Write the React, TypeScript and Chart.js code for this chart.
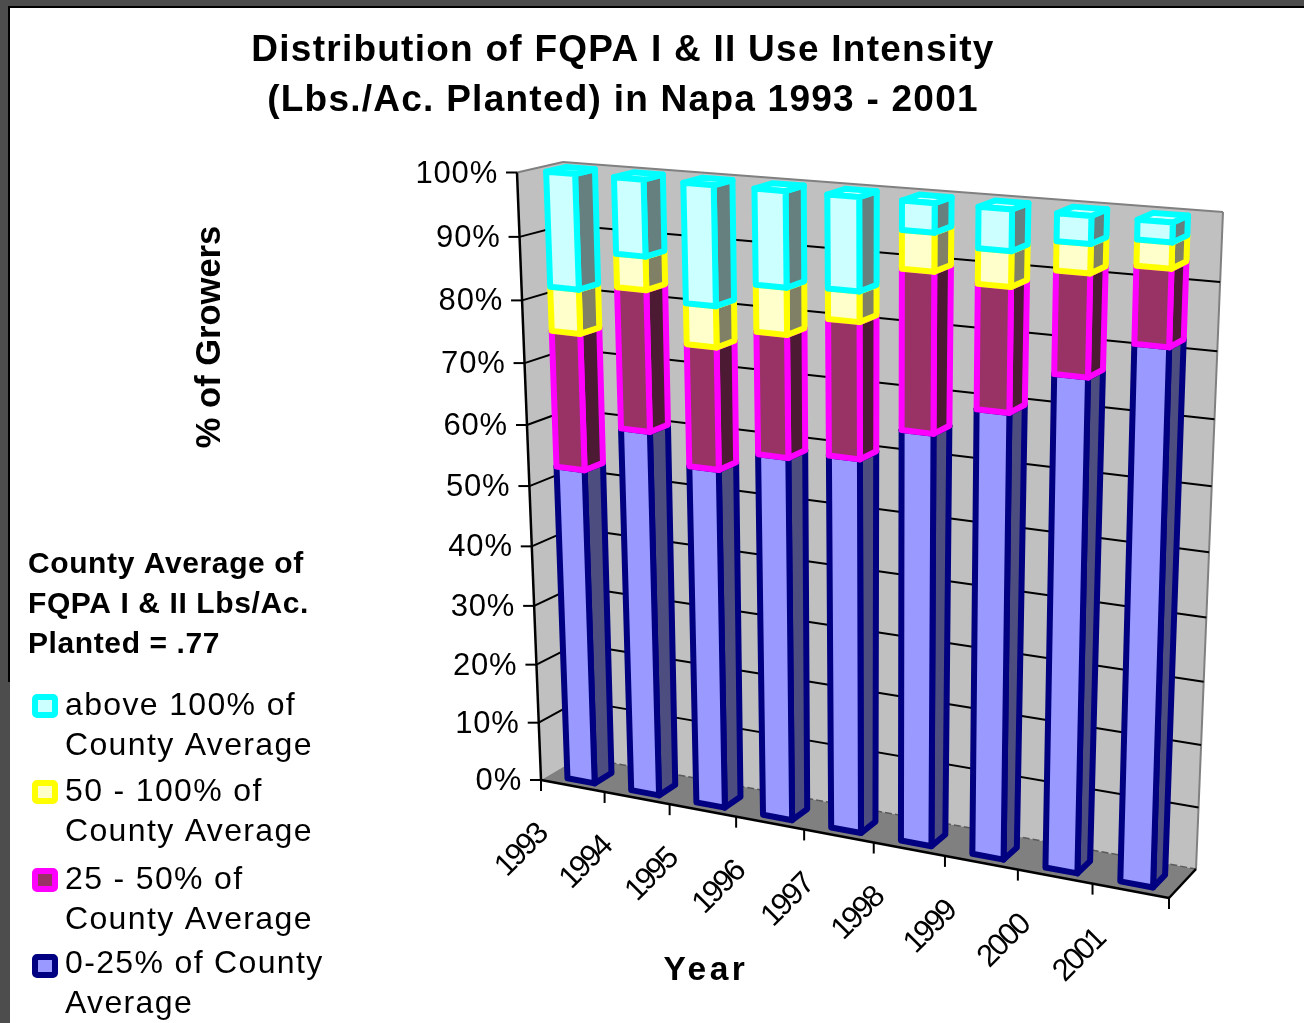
import React, { useEffect, useRef } from "react";
import { Chart, registerables } from "chart.js";

Chart.register(...registerables);

const categories = ["1993", "1994", "1995", "1996", "1997", "1998", "1999", "2000", "2001"];
const lowUse = [53, 60.6, 55.9, 59.2, 60.4, 65.7, 70.2, 76.7, 82.3];
const lowMidUse = [22, 22.4, 19.3, 19.1, 21, 24.3, 18.6, 15.1, 11.2];
const highMidUse = [7, 5.2, 6.4, 7.2, 4.6, 5.7, 5.2, 4.2, 3.7];
const highUse = [18, 11.8, 18.4, 14.5, 14, 4.3, 6, 4, 2.8];

const titleLines = ["Distribution of FQPA I & II Use Intensity", "(Lbs./Ac. Planted) in Napa 1993 - 2001"];
const noteLines = ["County Average of", "FQPA I & II Lbs/Ac.", "Planted = .77"];
const yAxisTitle = "% of Growers";
const xAxisTitle = "Year";
const legendLabels = ["0-25% of County|Average", "25 - 50% of|County Average", "50 - 100% of|County Average", "above 100% of|County Average"];
const edgeColors = ["#000080", "#FF00FF", "#FFFF00", "#00FFFF"];
const faceColors = ["#9999FF", "#993366", "#FFFFCC", "#CCFFFF"];
const sideColors = ["#4D4D80", "#4D1A33", "#808066", "#668080"];

type P = [number, number];
function homography(p0: P, p1: P, p2: P, p3: P) {
  const sx = p0[0] - p1[0] + p2[0] - p3[0];
  const sy = p0[1] - p1[1] + p2[1] - p3[1];
  const dx1 = p1[0] - p2[0], dx2 = p3[0] - p2[0], dy1 = p1[1] - p2[1], dy2 = p3[1] - p2[1];
  const den = dx1 * dy2 - dx2 * dy1;
  const g = (sx * dy2 - dx2 * sy) / den;
  const h = (dx1 * sy - sx * dy1) / den;
  const a = p1[0] - p0[0] + g * p1[0], b = p3[0] - p0[0] + h * p3[0];
  const d = p1[1] - p0[1] + g * p1[1], e = p3[1] - p0[1] + h * p3[1];
  return (u: number, v: number): P => {
    const w = g * u + h * v + 1;
    return [(a * u + b * v + p0[0]) / w, (d * u + e * v + p0[1]) / w];
  };
}
const front = homography([541, 780], [1169, 898], [1189, 228], [517, 172.5]);
const back = homography([580, 757], [1196, 869], [1223, 212], [563, 162]);
const project = (u: number, v: number, z: number): P => {
  const f = front(u, v), b = back(u, v);
  return [f[0] + (b[0] - f[0]) * z, f[1] + (b[1] - f[1]) * z];
};
const BAR_Z0 = 0.22, BAR_Z1 = 0.66;

function poly(ctx: CanvasRenderingContext2D, pts: P[]) {
  ctx.beginPath();
  pts.forEach((p, i) => (i ? ctx.lineTo(p[0], p[1]) : ctx.moveTo(p[0], p[1])));
  ctx.closePath();
}
function line(ctx: CanvasRenderingContext2D, a: P, b: P, color: string, w: number) {
  ctx.strokeStyle = color;
  ctx.lineWidth = w;
  ctx.beginPath();
  ctx.moveTo(a[0], a[1]);
  ctx.lineTo(b[0], b[1]);
  ctx.stroke();
}
function label(ctx: CanvasRenderingContext2D, text: string, x: number, y: number, font: string, spacing: number, align: CanvasTextAlign = "left", rot = 0) {
  ctx.save();
  ctx.translate(x, y);
  ctx.rotate(rot);
  ctx.font = font;
  (ctx as any).letterSpacing = spacing + "px";
  ctx.fillStyle = "#000";
  ctx.textAlign = align;
  ctx.textBaseline = "middle";
  ctx.fillText(text, 0, 0);
  ctx.restore();
}

const SANS = '"Liberation Sans", Arial, sans-serif';

const perspectivePlugin = {
  id: "perspective",
  beforeDraw(chart: any) {
    (chart.ctx as any).letterSpacing = "1.25px";
  },
  beforeDatasetsDraw(chart: any) {
    const ctx: CanvasRenderingContext2D = chart.ctx;
    (ctx as any).letterSpacing = "0px";
    const yScale = chart.scales.y;
    const area = chart.chartArea;
    ctx.save();
    ctx.lineJoin = "round";
    ctx.lineCap = "butt";
    ctx.fillStyle = "#C0C0C0";
    poly(ctx, [project(0, 0, 0), project(0, 1, 0), project(0, 1, 1), project(0, 0, 1)]);
    ctx.fill();
    poly(ctx, [project(0, 0, 1), project(0, 1, 1), project(1, 1, 1), project(1, 0, 1)]);
    ctx.fill();
    ctx.fillStyle = "#808080";
    poly(ctx, [project(0, 0, 0), project(1, 0, 0), project(1, 0, 1), project(0, 0, 1)]);
    ctx.fill();
    line(ctx, project(0, 1, 0), project(0, 1, 1), "#808080", 2);
    line(ctx, project(0, 1, 1), project(1, 1, 1), "#808080", 2);
    line(ctx, project(1, 1, 1), project(1, 0, 1), "#808080", 2);
    yScale.ticks.forEach((t: any, i: number) => {
      const v = (area.bottom - yScale.getPixelForTick(i)) / (area.bottom - area.top);
      const a = project(0, v, 0);
      if (t.value > 0 && t.value < 100) {
        line(ctx, a, project(0, v, 1), "#000", 2);
        line(ctx, project(0, v, 1), project(1, v, 1), "#000", 2);
      }
      line(ctx, [a[0] - 11, a[1]], a, "#000", 2);
      label(ctx, String(t.label), a[0] - 19, a[1] + 1.5, `31px ${SANS}`, 0.8, "right");
    });
    ctx.setLineDash([7, 3]);
    line(ctx, project(0, 0, 1), project(1, 0, 1), "#5a5a5a", 1.5);
    ctx.setLineDash([]);
    line(ctx, project(0, 0, 0), project(0, 1, 0), "#000", 2.5);
    line(ctx, project(0, 0, 0), project(1, 0, 0), "#000", 2.5);
    line(ctx, project(1, 0, 0), project(1, 0, 1), "#000", 2.5);
    const n = categories.length;
    for (let i = 0; i <= n; i++) {
      const p = project(i / n, 0, 0);
      line(ctx, p, [p[0], p[1] + 11], "#000", 2);
    }
    const xScale = chart.scales.x;
    xScale.ticks.forEach((t: any, i: number) => {
      const u = (xScale.getPixelForTick(i) - area.left) / (area.right - area.left);
      const p = project(u, 0, 0);
      label(ctx, String(t.label), p[0] - 51, p[1] + 65, `31px ${SANS}`, -2.5, "center", -Math.PI * 0.25);
    });
    ctx.restore();
  },
  beforeDatasetDraw() {
    return false;
  },
  afterDatasetsDraw(chart: any) {
    const ctx: CanvasRenderingContext2D = chart.ctx;
    const area = chart.chartArea;
    const w = area.right - area.left, h = area.bottom - area.top;
    const U = (x: number) => (x - area.left) / w;
    const V = (y: number) => (area.bottom - y) / h;
    ctx.save();
    ctx.lineJoin = "round";
    categories.forEach((_, idx) => {
      chart.data.datasets.forEach((ds: any, d: number) => {
        const el = chart.getDatasetMeta(d).data[idx];
        const { x, y, base, width } = el.getProps(["x", "y", "base", "width"], true);
        const u0 = U(x - width / 2), u1 = U(x + width / 2), v0 = V(base), v1 = V(y);
        const flb = project(u0, v0, BAR_Z0), frb = project(u1, v0, BAR_Z0), frt = project(u1, v1, BAR_Z0), flt = project(u0, v1, BAR_Z0);
        const brb = project(u1, v0, BAR_Z1), brt = project(u1, v1, BAR_Z1), blt = project(u0, v1, BAR_Z1);
        ctx.strokeStyle = ds.borderColor;
        ctx.lineWidth = 6;
        const faces: [P[], string][] = [
          [[frb, brb, brt, frt], sideColors[d]],
          [[flt, frt, brt, blt], ds.backgroundColor],
          [[flb, frb, frt, flt], ds.backgroundColor],
        ];
        faces.forEach(([pts, fill]) => {
          poly(ctx, pts);
          ctx.fillStyle = fill;
          ctx.fill();
          ctx.stroke();
        });
      });
    });

    label(ctx, yAxisTitle, 210, 337, `bold 34.5px ${SANS}`, 0, "center", -Math.PI / 2);
    label(ctx, xAxisTitle, 706, 971, `bold 33.5px ${SANS}`, 3.5, "center");
    noteLines.forEach((t, i) => label(ctx, t, 28, 565 + i * 40, `bold 30px ${SANS}`, 0.6));

    const swatchY = [954, 868, 780, 694];
    const textY = [964, 880, 792, 706];
    chart.data.datasets.forEach((ds: any, d: number) => {
      ctx.beginPath();
      (ctx as any).roundRect(35, swatchY[d] + 3, 20, 18, 2);
      ctx.fillStyle = ds.backgroundColor;
      ctx.fill();
      ctx.strokeStyle = ds.borderColor;
      ctx.lineWidth = 6;
      ctx.stroke();
      String(ds.label).split("|").forEach((t, i) => label(ctx, t, 65, textY[d] + i * 40, `32px ${SANS}`, 1.35));
    });
    ctx.restore();
  },
};

export default function App() {
  const ref = useRef<HTMLCanvasElement>(null);
  useEffect(() => {
    const series = [lowUse, lowMidUse, highMidUse, highUse];
    const chart = new Chart(ref.current as HTMLCanvasElement, {
      type: "bar",
      data: {
        labels: categories,
        datasets: series.map((data, i) => ({
          label: legendLabels[i],
          data,
          backgroundColor: faceColors[i],
          borderColor: edgeColors[i],
          categoryPercentage: 0.43,
          barPercentage: 1,
        })),
      },
      options: {
        responsive: false,
        animation: false,
        layout: { padding: 0 },
        plugins: {
          legend: { display: false },
          tooltip: { enabled: false },
          title: {
            display: true,
            text: titleLines,
            color: "#000",
            font: { family: SANS, size: 37, weight: "bold", lineHeight: 1.352 },
            padding: { top: 26, bottom: 10 },
          },
        },
        scales: {
          x: { stacked: true, display: false },
          y: {
            stacked: true,
            display: false,
            min: 0,
            max: 100,
            ticks: { stepSize: 10, callback: (v: any) => `${v}%` },
          },
        },
      } as any,
      plugins: [perspectivePlugin as any],
    });
    return () => chart.destroy();
  }, []);
  return (
    <div style={{ position: "fixed", inset: 0, background: "#4D4D4D", overflow: "hidden" }}>
      <div style={{ position: "absolute", left: 8, top: 6, right: 0, height: 674, borderLeft: "2px solid #000", borderTop: "2px solid #000" }} />
      <div style={{ position: "absolute", left: 10, top: 8, right: 0, bottom: 0, background: "#fff" }} />
      <canvas ref={ref} width={1246} height={1023} style={{ position: "absolute", left: 0, top: 0, display: "block" }} />
    </div>
  );
}
